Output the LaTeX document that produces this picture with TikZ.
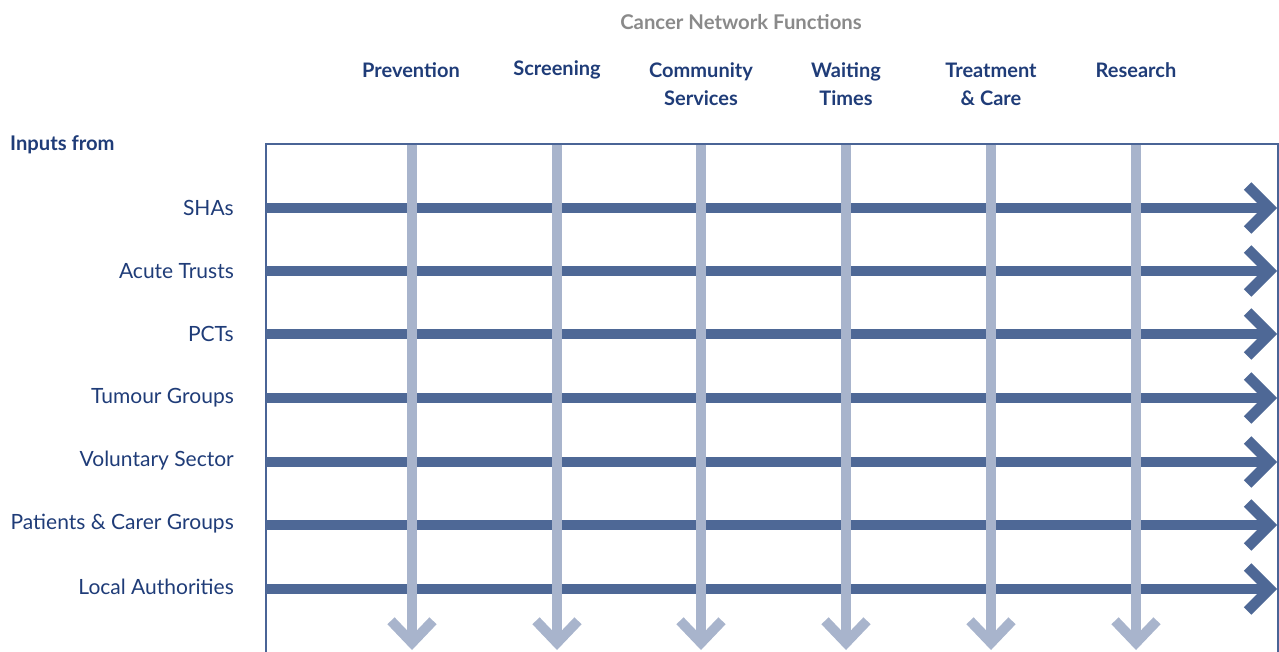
\documentclass[tikz,border=0pt]{standalone}
\usepackage{fontspec}
\setmainfont{Lato}
\usetikzlibrary{arrows.meta}
\definecolor{hblue}{HTML}{4E6896}
\definecolor{vblue}{HTML}{A8B4CC}
\definecolor{navy}{HTML}{1F3C78}
\definecolor{titlegrey}{HTML}{8A8A8A}
\definecolor{framecol}{HTML}{4A6496}
\tikzset{
  rowlabel/.style={anchor=east,inner sep=0pt,text=navy,font=\fontsize{21}{24}\selectfont},
  colhead/.style={anchor=center,inner sep=0pt,align=center,text=navy,font=\fontsize{20}{28}\selectfont\bfseries},
  harrow/.style={draw=hblue,line width=10.5pt,-{Straight Barb[length=22pt,width=44pt]}},
  varrow/.style={draw=vblue,line width=10pt,-{Straight Barb[length=22pt,width=42pt]}},
  framebox/.style={draw=framecol,line width=1.4pt}
}
\begin{document}
\begin{tikzpicture}[x=1pt,y=-1pt]
\useasboundingbox (0,0) rectangle (1279,651);
\clip (0,0) rectangle (1279,651);
% title and headers
\node[inner sep=0pt,text=titlegrey,font=\fontsize{20.3}{24}\selectfont\bfseries] (title) at (741,22) {Cancer Network Functions};
\node[inner sep=0pt,anchor=west,text=navy,font=\fontsize{20.2}{24}\selectfont\bfseries] (inputs) at (10,145) {Inputs from};
\node[colhead] (c1) at (411,70) {Prevention};
\node[colhead] (c2) at (557,70) {Screening};
\node[colhead] (c3) at (701,84) {Community\\Services};
\node[colhead] (c4) at (846,84) {Waiting\\Times};
\node[colhead] (c5) at (991,84) {Treatment\\\& Care};
\node[colhead] (c6) at (1136,70) {Research};
% frame
\draw[framebox] (266,144) rectangle (1278,700);
% row labels
\node[rowlabel] (r1) at (234,208) {SHAs};
\node[rowlabel] (r2) at (234,271) {Acute Trusts};
\node[rowlabel] (r3) at (234,334) {PCTs};
\node[rowlabel] (r4) at (234,398) {Tumour Groups};
\node[rowlabel] (r5) at (234,461) {Voluntary Sector};
\node[rowlabel] (r6) at (234,524) {Patients \& Carer Groups};
\node[rowlabel] (r7) at (234,587) {Local Authorities};
% horizontal arrows
\foreach \i/\y in {1/208,2/271,3/334,4/398,5/462,6/525,7/589}{
  \coordinate (hs\i) at (266,\y);
  \coordinate (he\i) at (1277,\y);
  \draw[harrow] (hs\i) -- (he\i);
}
% vertical arrows
\foreach \j/\x in {1/412,2/557,3/701,4/846,5/991,6/1136}{
  \coordinate (vs\j) at (\x,144.7);
  \coordinate (ve\j) at (\x,650);
  \draw[varrow] (vs\j) -- (ve\j);
}
\end{tikzpicture}
\end{document}
